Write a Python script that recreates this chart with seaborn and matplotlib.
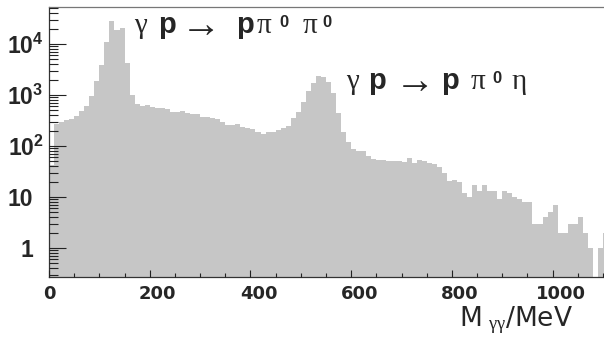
import numpy as np
import pandas as pd
import matplotlib
matplotlib.use("Agg")
import matplotlib.pyplot as plt
import matplotlib.transforms as mtransforms
import seaborn as sns

# ---- data: photon-pair invariant mass spectrum, 10 MeV bins ----
bin_width = 10.0
bin_low = np.arange(0, 1110, 10)          # lower bin edges in MeV
counts = [
    42, 265, 300, 320, 345, 380, 480, 610, 955, 1880,
    3880, 11100, 28700, 18700, 20300, 4200, 1000, 655, 610, 630,
    590, 560, 560, 525, 470, 470, 490, 437, 425, 418,
    375, 365, 348, 333, 300, 258, 258, 268, 240, 222,
    215, 190, 172, 190, 190, 205, 222, 246, 348, 470,
    740, 1210, 1700, 2400, 2220, 1820, 1080, 437, 190, 121,
    86, 80, 80, 63, 55, 53, 53, 51, 51, 51,
    49, 57, 46, 53, 51, 46, 44, 38, 29, 21,
    22, 20, 12, 10, 17, 13, 17, 13, 13, 9,
    13, 12, 10, 9, 8, 8, 3, 3, 4, 5,
    7, 2, 2, 3, 3, 4, 2, 1, 0, 1,
    2,
]
x_ticks = [0, 200, 400, 600, 800, 1000]
y_ticks = [1, 10, 100, 1000, 10000]
y_ticklabels = ["1", "10", r"$\mathbf{10^{2}}$", r"$\mathbf{10^{3}}$", r"$\mathbf{10^{4}}$"]
# reaction labels, split into (text, style) pieces
reaction_pi0pi0 = [("γ", "greek"), ("p", "bold"), ("→", "arrow"), ("p", "bold"),
                   ("π", "greek"), ("0", "sup"), ("π", "greek"), ("0", "sup")]
reaction_pi0eta = [("γ", "greek"), ("p", "bold"), ("→", "arrow"), ("p", "bold"),
                   ("π", "greek"), ("0", "sup"), ("η", "greek")]
x_label = r"M$\ _{\mathrm{\gamma\gamma}}$/MeV"

GRAY = "#c6c6c6"

sns.set_style("white")
plt.rcParams["font.family"] = ["DejaVu Sans"]
plt.rcParams["mathtext.fontset"] = "custom"
plt.rcParams["mathtext.rm"] = "Liberation Serif"
plt.rcParams["mathtext.it"] = "Liberation Serif:italic"
plt.rcParams["mathtext.bf"] = "Liberation Sans:bold"
plt.rcParams["mathtext.sf"] = "Liberation Sans"

W, H = 604, 337
fig = plt.figure(figsize=(W / 100, H / 100), dpi=100)
ax = fig.add_axes([49 / W, 60 / H, (W - 49) / W, 270 / H])

edges = [float(e) for e in np.append(bin_low, bin_low[-1] + bin_width)]
df = pd.DataFrame({"mass": bin_low + bin_width / 2, "count": np.asarray(counts, dtype=float)})
sns.histplot(data=df, x="mass", weights="count", bins=edges, ax=ax, color=GRAY,
             alpha=1, linewidth=0, element="step", fill=True)

ax.set_axisbelow(False)
ax.set_yscale("log")
ax.set_ylim(0.27, 53000)
ax.set_xlim(0, 1102)

ax.set_xticks(x_ticks)
ax.set_xticklabels([str(v) for v in x_ticks])
ax.xaxis.set_minor_locator(matplotlib.ticker.MultipleLocator(50))
ax.set_yticks(y_ticks)
ax.set_yticklabels(y_ticklabels)
ax.yaxis.set_minor_locator(matplotlib.ticker.LogLocator(base=10, subs=np.arange(2, 10)))
ax.yaxis.set_minor_formatter(matplotlib.ticker.NullFormatter())

ax.set_xlabel("")
ax.set_ylabel("")

ax.tick_params(axis="both", which="both", direction="in", color="#222222", width=0.8,
               top=False, right=False, bottom=True, left=True)
ax.tick_params(axis="y", which="major", length=12.5, pad=4)
ax.tick_params(axis="y", which="minor", length=6.5)
ax.tick_params(axis="x", which="major", length=5.3, pad=6)
ax.tick_params(axis="x", which="minor", length=2.6)

for lab in ax.get_yticklabels():
    lab.set_fontfamily("Liberation Sans")
    lab.set_fontweight("bold")
    lab.set_fontsize(16.5)
for lab in ax.get_xticklabels():
    lab.set_fontfamily("DejaVu Sans")
    lab.set_fontweight("bold")
    lab.set_fontsize(13)

# shift plain "1" / "10" labels left, non-zero x labels right (as in reference)
for lab in ax.get_yticklabels()[:2]:
    lab.set_transform(lab.get_transform() +
                      mtransforms.ScaledTranslation(-0.10, 0, fig.dpi_scale_trans))
for lab in ax.get_xticklabels()[1:]:
    lab.set_transform(lab.get_transform() +
                      mtransforms.ScaledTranslation(0.08, 0, fig.dpi_scale_trans))

for side in ["left", "bottom", "top"]:
    ax.spines[side].set_color("#333333")
    ax.spines[side].set_linewidth(0.9)
ax.spines["top"].set_color("#777777")
ax.spines["right"].set_visible(False)

STYLES = {
    "greek": dict(family="Liberation Serif", fontsize=21, dy=0),
    "bold": dict(family="Liberation Sans", weight="bold", fontsize=21, dy=0),
    "arrow": dict(family=["Liberation Serif", "DejaVu Sans"], fontsize=29, dy=-4),
    "sup": dict(family="Liberation Sans", weight="bold", fontsize=12, dy=6),
}


def draw_reaction(pieces, xs, baseline):
    for (txt, style), x in zip(pieces, xs):
        st = dict(STYLES[style])
        dy = st.pop("dy")
        fig.text(x / W, (H - baseline + dy) / H, txt, va="baseline", ha="left", **st)


draw_reaction(reaction_pi0pi0, [134, 158, 181, 236, 257, 279, 303, 322], 33)
draw_reaction(reaction_pi0eta, [346, 368, 395, 441, 471, 492, 512], 89)

fig.text(573 / W, (H - 327) / H, x_label, fontsize=19, va="baseline", ha="right",
         family="DejaVu Sans")

fig.savefig("out.png", dpi=100)
